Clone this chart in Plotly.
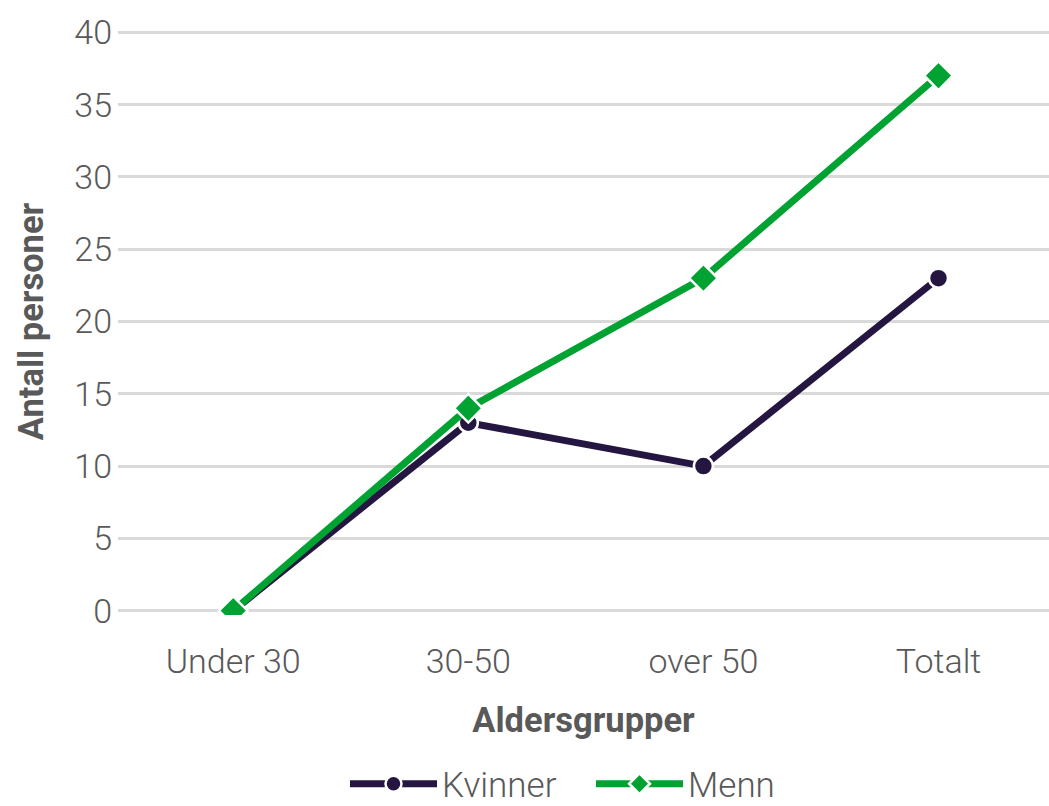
import plotly.graph_objects as go

categories = ["Under 30", "30-50", "over 50", "Totalt"]
kvinner = [0, 13, 10, 23]
menn = [0, 14, 23, 37]
y_ticks = [0, 5, 10, 15, 20, 25, 30, 35, 40]

FONT = "Roboto"
GRAY = "#595959"

fig = go.Figure()
fig.add_trace(go.Scatter(
    x=categories, y=kvinner, name="Kvinner", mode="lines+markers",
    line=dict(color="#251641", width=7),
    marker=dict(symbol="circle", size=19, color="#251641", line=dict(color="white", width=2.5)),
))
fig.add_trace(go.Scatter(
    x=categories, y=menn, name="Menn", mode="lines+markers",
    line=dict(color="#00a332", width=7),
    marker=dict(symbol="diamond", size=22, color="#00a332", line=dict(color="white", width=2.5)),
))

fig.update_layout(
    width=1049, height=806,
    margin=dict(l=118, r=0, t=28, b=191),
    paper_bgcolor="white", plot_bgcolor="white",
    font=dict(family=FONT, color=GRAY, size=34),
    showlegend=True,
    legend=dict(orientation="h", xref="container", yref="container",
                x=345 / 1049, xanchor="left", y=1 - 784 / 806, yanchor="middle",
                font=dict(size=35, color=GRAY, weight=300), itemwidth=87,
                entrywidth=144, entrywidthmode="pixels"),
    xaxis=dict(
        type="category", range=[-0.49, 3.47], automargin=False,
        showgrid=False, zeroline=False, showline=False,
        ticks="", tickfont=dict(size=34, color=GRAY, weight=300), ticklabelstandoff=23,
        title=dict(text="<b>Aldersgrupper</b>", font=dict(size=34.5, color=GRAY), standoff=27),
    ),
    yaxis=dict(
        range=[-0.3, 40.3], tickvals=y_ticks, automargin=False,
        showgrid=True, gridcolor="#d9d9d9", gridwidth=2.5,
        zeroline=False, showline=False, ticks="",
        tickfont=dict(size=34, color=GRAY, weight=300), ticklabelstandoff=5,
        title=dict(text="<b>Antall personer</b>", font=dict(size=34.5, color=GRAY), standoff=20),
    ),
)

fig.write_html("out.html", config={"displayModeBar": False},
               post_script="document.body.style.margin='0';document.body.style.overflow='hidden';")
